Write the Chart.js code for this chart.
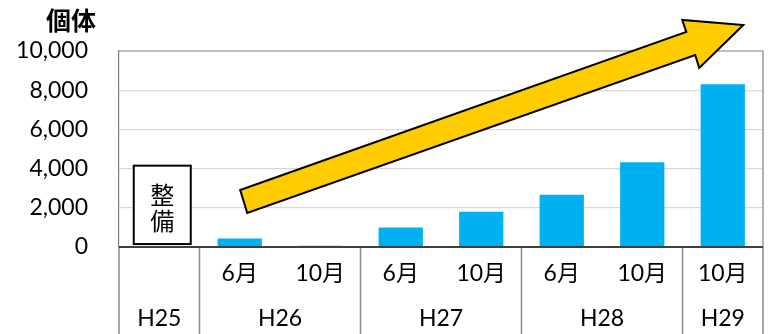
<!DOCTYPE html>
<html>
<head>
<meta charset="utf-8">
<script src="https://cdn.jsdelivr.net/npm/chart.js@4"></script>
<style>
  html, body { margin: 0; padding: 0; background: #ffffff; }
  #wrap { width: 775px; height: 334px; }
</style>
</head>
<body>
<div id="wrap"><canvas id="c" width="775" height="334"></canvas></div>
<script>
// Survey periods: one slot per bar (H25 holds the "整備" note only)
const months = ['', '6月', '10月', '6月', '10月', '6月', '10月', '10月'];
const years = ['H25', 'H26', 'H27', 'H28', 'H29'];
const yearSpans = [1, 2, 2, 2, 1];
// Individuals counted per survey
const counts = [null, 430, 60, 1000, 1800, 2670, 4320, 8300];
const yTicks = [0, 2000, 4000, 6000, 8000, 10000];
const unitLabel = '個体';
const noteChars = ['整', '備'];

// Trend arrow outline in (slot index, value) units
const arrowX = [1.006, 6.547, 6.497, 7.255, 6.708, 6.658, 1.093];
const arrowY = [2908, 10969, 11582, 11327, 9133, 9796, 1735];

const TXT = "Lato, 'Noto Sans CJK JP', sans-serif";
const JP = "'Noto Sans CJK JP', sans-serif";

const decor = {
  id: 'decor',
  afterDatasetsDraw(chart) {
    const { ctx, chartArea: a, scales: { x, y } } = chart;
    const H = chart.height;
    ctx.save();

    // plot frame: top and right edges
    ctx.strokeStyle = '#808080';
    ctx.lineWidth = 1.2;
    ctx.beginPath();
    ctx.moveTo(a.left, a.top);
    ctx.lineTo(a.right, a.top);
    ctx.lineTo(a.right, a.bottom);
    ctx.stroke();

    // category axis: separators between years
    const step = (a.right - a.left) / months.length;
    ctx.strokeStyle = '#8a8a8a';
    ctx.lineWidth = 1.5;
    let idx = 0;
    const bounds = [0];
    yearSpans.forEach(s => { idx += s; bounds.push(idx); });
    bounds.forEach(b => {
      const px = a.left + b * step;
      ctx.beginPath();
      ctx.moveTo(px, a.bottom);
      ctx.lineTo(px, H);
      ctx.stroke();
    });

    // baseline
    ctx.strokeStyle = '#404040';
    ctx.lineWidth = 2;
    ctx.beginPath();
    ctx.moveTo(a.left, y.getPixelForValue(0));
    ctx.lineTo(a.right, y.getPixelForValue(0));
    ctx.stroke();

    // month labels
    ctx.fillStyle = '#000000';
    ctx.textAlign = 'center';
    ctx.textBaseline = 'middle';
    ctx.font = '23px ' + TXT;
    months.forEach((m, i) => {
      if (m) ctx.fillText(m, x.getPixelForValue(i), a.bottom + 27);
    });
    // year labels
    years.forEach((yl, k) => {
      const cx = a.left + (bounds[k] + bounds[k + 1]) / 2 * step;
      ctx.fillText(yl, cx, a.bottom + 72);
    });

    // unit label
    ctx.font = 'bold 25px ' + JP;
    ctx.fillText(unitLabel, 71, 20);

    // note box in the H25 slot
    const bx = x.getPixelForValue(0);
    const bw = 57;
    const top = y.getPixelForValue(4150);
    const bot = y.getPixelForValue(150);
    ctx.fillStyle = '#ffffff';
    ctx.fillRect(bx + 3 - bw / 2, top, bw, bot - top);
    ctx.strokeStyle = '#000000';
    ctx.lineWidth = 2;
    ctx.strokeRect(bx + 3 - bw / 2, top, bw, bot - top);
    ctx.fillStyle = '#000000';
    ctx.font = '24px ' + JP;
    ctx.fillText(noteChars[0], bx + 3, top + 29);
    ctx.fillText(noteChars[1], bx + 3, top + 55);

    // trend arrow
    ctx.beginPath();
    arrowX.forEach((vx, i) => {
      const px = x.getPixelForValue(vx);
      const py = y.getPixelForValue(arrowY[i]);
      if (i === 0) ctx.moveTo(px, py); else ctx.lineTo(px, py);
    });
    ctx.closePath();
    ctx.fillStyle = '#FFCC00';
    ctx.fill();
    ctx.strokeStyle = '#000000';
    ctx.lineWidth = 2;
    ctx.lineJoin = 'miter';
    ctx.stroke();

    ctx.restore();
  }
};

new Chart(document.getElementById('c'), {
  type: 'bar',
  data: {
    labels: months.map((m, i) => i),
    datasets: [{
      data: counts,
      backgroundColor: '#00B0F0',
      borderWidth: 0,
      categoryPercentage: 1,
      barPercentage: 0.55
    }]
  },
  options: {
    responsive: false,
    animation: false,
    devicePixelRatio: 1,
    layout: { padding: { left: 0, top: 51, right: 12, bottom: 87 } },
    plugins: { legend: { display: false }, tooltip: { enabled: false } },
    scales: {
      x: { display: false },
      y: {
        min: 0,
        max: 10000,
        afterFit(s) { s.width = 119; },
        afterBuildTicks(s) { s.ticks = yTicks.map(v => ({ value: v })); },
        border: { display: true, color: '#808080', width: 1.2 },
        grid: {
          drawTicks: false,
          color: ctx => ctx.tick.value === 0 || ctx.tick.value === 10000 ? 'rgba(0,0,0,0)' : '#d9d9d9',
          lineWidth: 1.2
        },
        ticks: {
          padding: 31,
          color: '#000000',
          font: { family: TXT, size: 23 },
          callback: v => v.toLocaleString('en-US')
        }
      }
    }
  },
  plugins: [decor]
});
</script>
</body>
</html>
